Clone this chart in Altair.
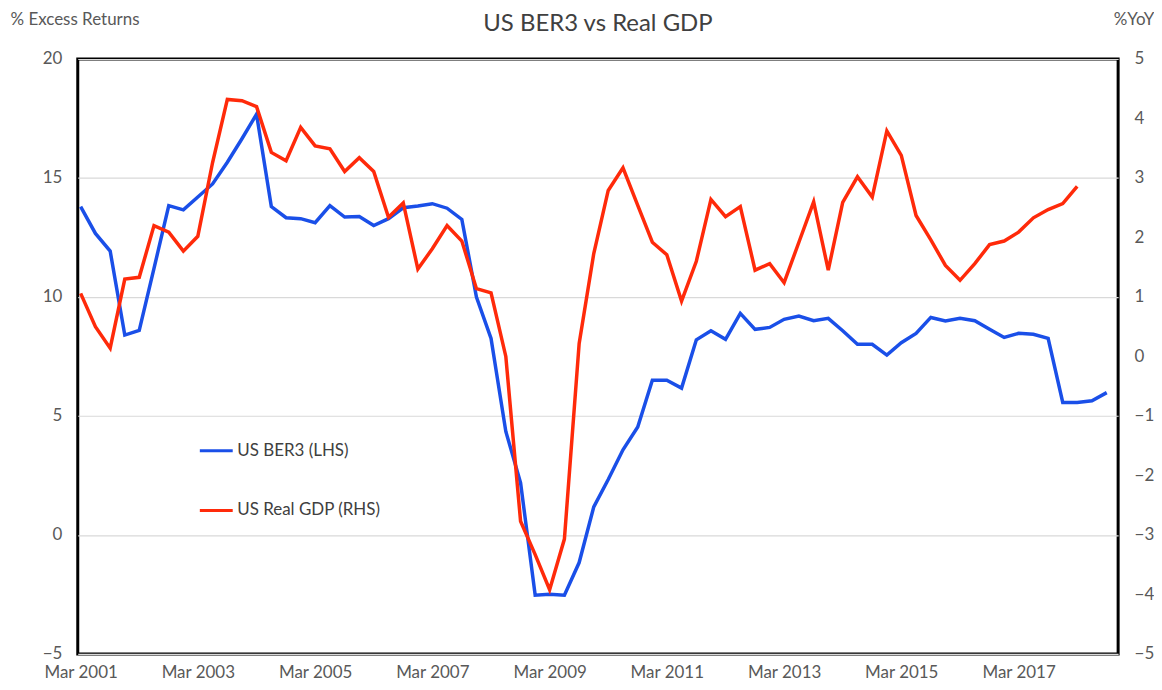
import altair as alt
import pandas as pd

# Quarterly observations, Mar 2001 .. Sep 2018
quarters = pd.date_range("2001-03-01", periods=71, freq="3MS").strftime("%Y-%m-%d").tolist()

ber3 = [13.8, 12.67, 11.93, 8.4, 8.6, 11.2, 13.84, 13.66, 14.2, 14.75,
        15.66, 16.65, 17.68, 13.8, 13.33, 13.29, 13.12, 13.84, 13.36, 13.38,
        13.0, 13.29, 13.75, 13.82, 13.92, 13.73, 13.26, 10.0, 8.26, 4.35,
        2.19, -2.53, -2.49, -2.53, -1.16, 1.18, 2.33, 3.58, 4.54, 6.5,
        6.5, 6.17, 8.2, 8.58, 8.22, 9.31, 8.64, 8.72, 9.06, 9.2,
        9.0, 9.1, 8.58, 8.01, 8.01, 7.56, 8.08, 8.47, 9.14, 8.99,
        9.1, 9.0, 8.64, 8.30, 8.47, 8.43, 8.26, 5.57, 5.57, 5.64,
        5.98]

gdp = [1.06, 0.50, 0.14, 1.30, 1.33, 2.20, 2.09, 1.77, 2.02, 3.26,
       4.32, 4.30, 4.20, 3.43, 3.29, 3.85, 3.54, 3.49, 3.11, 3.34,
       3.11, 2.34, 2.58, 1.47, 1.81, 2.20, 1.94, 1.14, 1.07, 0.0,
       -2.77, -3.33, -3.92, -3.07, 0.22, 1.73, 2.79, 3.17, 2.54, 1.92,
       1.71, 0.93, 1.60, 2.64, 2.35, 2.52, 1.45, 1.56, 1.24, 1.92,
       2.60, 1.45, 2.59, 3.02, 2.68, 3.79, 3.38, 2.37, 1.96, 1.53,
       1.28, 1.56, 1.88, 1.94, 2.09, 2.33, 2.47, 2.57, 2.86]

tick_years = [2001, 2003, 2005, 2007, 2009, 2011, 2013, 2015, 2017]
left_ticks = [-5, 0, 5, 10, 15, 20]
right_ticks = [-5, -4, -3, -2, -1, 0, 1, 2, 3, 4, 5]
series_names = ["US BER3 (LHS)", "US Real GDP (RHS)"]
series_colors = ["#1a4fe8", "#ff2a0a"]

df_b = pd.DataFrame({"date": quarters, "value": ber3, "series": series_names[0]})
df_g = pd.DataFrame({"date": quarters[:len(gdp)], "value": gdp, "series": series_names[1]})

FONT = "Lato"
LABEL = "#595959"

x_enc = alt.X(
    "date:T",
    scale=alt.Scale(domain=[alt.DateTime(year=2001, month=2, date=11),
                            alt.DateTime(year=2018, month=11, date=11)]),
    axis=alt.Axis(values=[alt.DateTime(year=y, month=3, date=1) for y in tick_years],
                  format="%b %Y", labelFontSize=17, labelColor=LABEL, labelFont=FONT,
                  labelBaseline="alphabetic", ticks=False, domain=False, grid=False,
                  labelPadding=24, title=None),
)

legend = alt.Legend(orient="none", legendX=121, legendY=375, title=None,
                    symbolType="stroke", symbolStrokeWidth=3, symbolSize=1089,
                    labelFontSize=17, labelColor="#404040", labelFont=FONT,
                    rowPadding=34, labelOffset=3, symbolOpacity=1)

color_enc = alt.Color("series:N", scale=alt.Scale(domain=series_names, range=series_colors),
                      legend=legend)

blue = alt.Chart(df_b).mark_line(strokeWidth=3.5).encode(
    x=x_enc,
    y=alt.Y("value:Q", scale=alt.Scale(domain=[-5, 20], nice=False, zero=False),
            axis=alt.Axis(values=left_ticks, title="% Excess Returns", titleAngle=0,
                          titleAlign="left", titleBaseline="middle", titleX=-68, titleY=-40,
                          titleFontSize=17, titleFontWeight="normal", titleColor=LABEL,
                          titleFont=FONT, grid=True, gridColor="#d9d9d9", gridWidth=1.2,
                          domain=False, ticks=False, labelPadding=16, labelFontSize=17,
                          labelColor=LABEL, labelFont=FONT)),
    color=color_enc,
)

red = alt.Chart(df_g).mark_line(strokeWidth=3.5).encode(
    x=x_enc,
    y=alt.Y("value:Q", scale=alt.Scale(domain=[-5, 5], nice=False, zero=False),
            axis=alt.Axis(values=right_ticks, orient="right", title="%YoY", titleAngle=0,
                          titleAlign="left", titleBaseline="middle", titleX=-5, titleY=-40,
                          titleFontSize=17, titleFontWeight="normal", titleColor=LABEL,
                          titleFont=FONT, grid=False, domain=False, ticks=False,
                          labelPadding=16, labelFontSize=17, labelColor=LABEL, labelFont=FONT)),
    color=color_enc,
)

chart = alt.layer(blue, red).resolve_scale(y="independent").properties(
    width=1044,
    height=597,
    autosize=alt.AutoSizeParams(type="none"),
    padding={"left": 70, "top": 50, "right": 36, "bottom": 27},
    title=alt.TitleParams("US BER3 vs Real GDP", fontSize=24, font=FONT, fontWeight="normal",
                          color="#404040", anchor="middle", offset=-26),
).configure_view(stroke="black", strokeWidth=3)

chart.save("out.html", embed_options={"renderer": "svg", "actions": False})
